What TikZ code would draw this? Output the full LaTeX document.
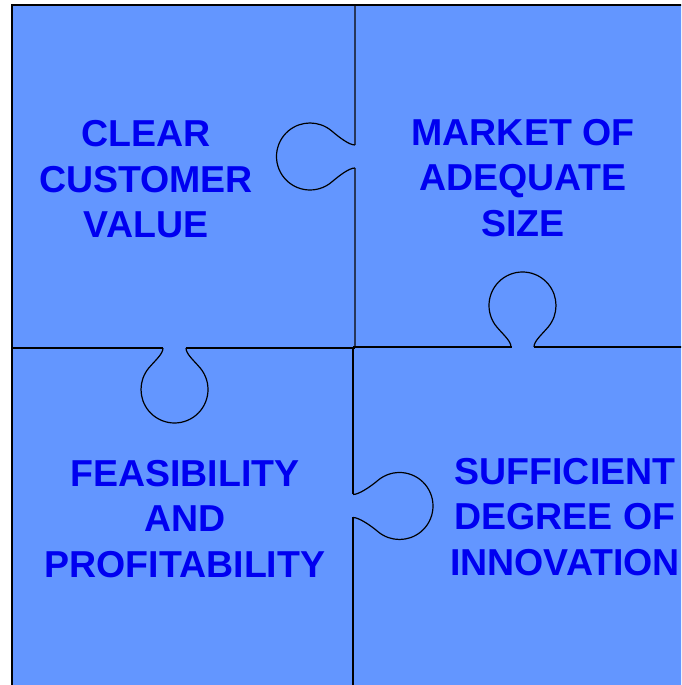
\documentclass[tikz,border=0pt]{standalone}
\usepackage{fontspec}
\setmainfont{Liberation Sans}
\definecolor{piecefill}{RGB}{99,150,255}
\definecolor{labelblue}{RGB}{0,0,240}
\definecolor{seamslate}{RGB}{40,55,90}
\tikzset{
  cutline/.style={draw=black, line width=1.2pt},
  seamline/.style={draw=seamslate, line width=2pt},
  frameline/.style={draw=black, line width=1.5pt},
  piecetext/.style={text=labelblue, font=\fontsize{37.5}{45.5}\selectfont\bfseries, align=center, inner sep=0pt},
  pics/tab/.style={code={
    \draw[cutline] (-11.5,0) .. controls (-11.5,6) and ([shift={(220:33.5)}]6.4,{#1-7.6}) ..
      ([shift={(220:33.5)}]0,#1) arc[start angle=220, end angle=-40, radius=33.5]
      .. controls ([shift={(-40:33.5)}]-6.4,{#1-7.6}) and (11.5,6) .. (11.5,0);
  }}
}
\begin{document}
\begin{tikzpicture}[x=1pt,y=1pt]
\useasboundingbox (0,0) rectangle (681,685);
\clip (0,0) rectangle (681,685);
% puzzle area
\fill[piecefill] (12,-5) rectangle (690,680);
% seams
\draw[seamline] (355,680) -- (355,540);
\draw[seamline] (355,517) -- (355,337);
\draw[cutline] (353,337) -- (353,190.5);
\draw[cutline] (353,167.5) -- (353,-5);
\draw[cutline] (12,337) -- (163,337);
\draw[cutline] (186,337) -- (355,337);
\draw[cutline] (353,338) -- (511.5,338);
\draw[cutline] (533.5,338) -- (690,338);
% tabs
\pic[rotate=90] at (355,528.5) {tab=45};
\pic[rotate=180] at (174.5,337) {tab=41.5};
\pic at (522.5,338) {tab=41.5};
\pic[rotate=-90] at (353,179) {tab=46.5};
% frame
\draw[frameline] (12,-5) -- (12,680) -- (690,680);
% texts
\node[piecetext] (tl) at (146,505.5) {CLEAR\\CUSTOMER\\VALUE};
\node[piecetext] (tr) at (523,507) {MARKET OF\\ADEQUATE\\SIZE};
\node[piecetext] (bl) at (185,166) {FEASIBILITY\\AND\\PROFITABILITY};
\node[piecetext] (br) at (565,168) {SUFFICIENT\\DEGREE OF\\INNOVATION};
\end{tikzpicture}
\end{document}
